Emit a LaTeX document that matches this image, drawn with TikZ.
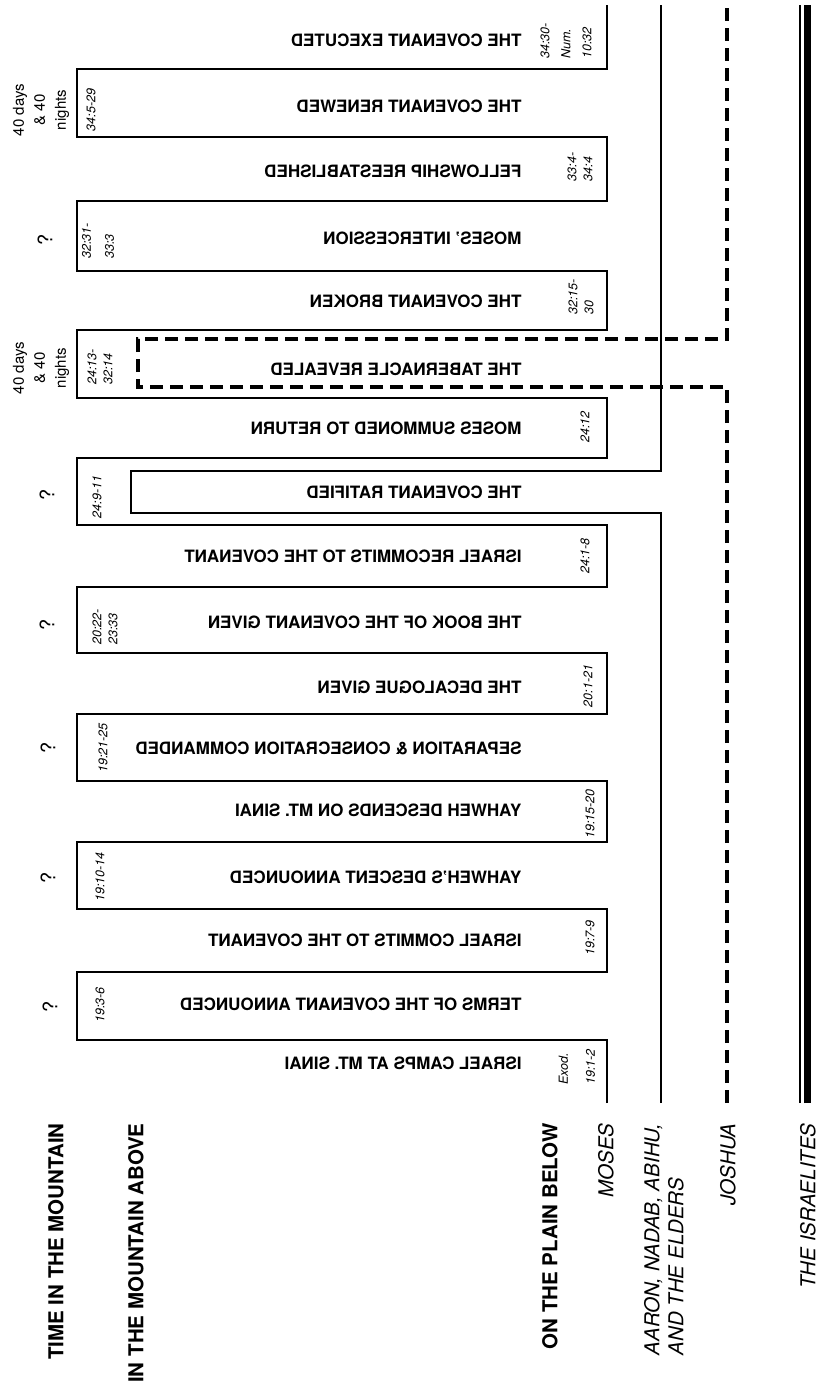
\documentclass[tikz,border=0pt]{standalone}
\usepackage{fontspec}
\setmainfont{TeX Gyre Heros}
\usepackage{graphicx}
\newcommand{\mirr}[1]{\reflectbox{#1}}
\tikzset{
  evt/.style={anchor=east, inner sep=0pt, font=\bfseries\fontsize{8.5}{10}\selectfont},
  hdr/.style={rotate=90, anchor=east, inner sep=0pt, font=\bfseries\fontsize{10.25}{12}\selectfont},
  who/.style={rotate=90, anchor=east, inner sep=0pt, align=left, font=\itshape\fontsize{10.25}{12}\selectfont},
  refl/.style={rotate=90, inner sep=0pt, align=left, font=\itshape\fontsize{6.25}{8}\selectfont},
  tim/.style={rotate=90, inner sep=0pt, align=center, font=\fontsize{7.5}{10.5}\selectfont},
  qmark/.style={rotate=90, inner sep=0pt, font=\fontsize{10}{12}\selectfont},
  mosesline/.style={line width=1.3pt, line join=miter},
  aaronline/.style={line width=0.65pt},
  joshualine/.style={line width=2pt, dash pattern=on 6.5pt off 3.5pt},
  israelthin/.style={line width=0.7pt},
  israelthick/.style={line width=3.5pt}
}
\begin{document}
\begin{tikzpicture}[x=0.5pt,y=-0.5pt]
\fill[white] (0,0) rectangle (817,1391);
\useasboundingbox (0,0) rectangle (817,1391);

% ---- Moses: serpentine between the mountain (left) and the plain (right)
\coordinate (mS) at (607,1103);
\coordinate (mE) at (607,5);
\draw[mosesline] (mS) -- (607,1040) -- (77,1040) -- (77,972) -- (607,972)
  -- (607,909) -- (77,909) -- (77,842) -- (607,842)
  -- (607,781) -- (77,781) -- (77,714) -- (607,714)
  -- (607,653) -- (77,653) -- (77,587) -- (607,587)
  -- (607,525) -- (77,525) -- (77,458) -- (607,458)
  -- (607,398) -- (77,398) -- (77,330) -- (607,330)
  -- (607,271) -- (77,271) -- (77,201) -- (607,201)
  -- (607,137) -- (77,137) -- (77,69) -- (607,69) -- (mE);

% ---- Aaron, Nadab, Abihu and the elders
\coordinate (aS) at (661,1103);
\coordinate (aE) at (661,5);
\draw[aaronline] (aS) -- (661,513) -- (131,513) -- (131,471) -- (661,471) -- (aE);

% ---- Joshua
\coordinate (jS) at (727,1103);
\coordinate (jE) at (727,5);
\draw[joshualine] (jS) -- (727,387) -- (138,387) -- (138,339) -- (727,339) -- (jE);

% ---- The Israelites
\coordinate (iS1) at (800,1103);
\coordinate (iE1) at (800,5);
\coordinate (iS2) at (807,1103);
\coordinate (iE2) at (807,5);
\draw[israelthin] (iS1) -- (iE1);
\draw[israelthick] (iS2) -- (iE2);

% ---- events (mirrored text)
\node[evt] (ev1)  at (522,40)   {\mirr{THE COVENANT EXECUTED}};
\node[evt] (ev2)  at (522,106)  {\mirr{THE COVENANT RENEWED}};
\node[evt] (ev3)  at (522,171)  {\mirr{FELLOWSHIP REESTABLISHED}};
\node[evt] (ev4)  at (522,238)  {\mirr{MOSES' INTERCESSION}};
\node[evt] (ev5)  at (522,301)  {\mirr{THE COVENANT BROKEN}};
\node[evt] (ev6)  at (522,369)  {\mirr{THE TABERNACLE REVEALED}};
\node[evt] (ev7)  at (522,428)  {\mirr{MOSES SUMMONED TO RETURN}};
\node[evt] (ev8)  at (522,492)  {\mirr{THE COVENANT RATIFIED}};
\node[evt] (ev9)  at (522,556)  {\mirr{ISRAEL RECOMMITS TO THE COVENANT}};
\node[evt] (ev10) at (522,622)  {\mirr{THE BOOK OF THE COVENANT GIVEN}};
\node[evt] (ev11) at (522,687)  {\mirr{THE DECALOGUE GIVEN}};
\node[evt] (ev12) at (522,748)  {\mirr{SEPARATION \& CONSECRATION COMMANDED}};
\node[evt] (ev13) at (522,810)  {\mirr{YAHWEH DESCENDS ON MT. SINAI}};
\node[evt] (ev14) at (522,877)  {\mirr{YAHWEH'S DESCENT ANNOUNCED}};
\node[evt] (ev15) at (522,940)  {\mirr{ISRAEL COMMITS TO THE COVENANT}};
\node[evt] (ev16) at (522,1004) {\mirr{TERMS OF THE COVENANT ANNOUNCED}};
\node[evt] (ev17) at (522,1063) {\mirr{ISRAEL CAMPS AT MT. SINAI}};

% ---- scripture references
\node[refl] (r1)  at (566,41)   {34:30-\\[2.5pt]Num.\\[2.5pt]10:32};
\node[refl] (r2)  at (91,110)   {34:5-29};
\node[refl] (r3)  at (580,167)  {33:4-\\34:4};
\node[refl] (r4)  at (98,241)   {32:31-\\[3.5pt]33:3};
\node[refl] (r5)  at (581,297)  {32:15-\\30};
\node[refl] (r6)  at (100,367)  {24:13-\\32:14};
\node[refl] (r7)  at (585,427)  {24:12};
\node[refl] (r8)  at (97,497)   {24:9-11};
\node[refl] (r9)  at (585,556)  {24:1-8};
\node[refl] (r10) at (105,627)  {20:22-\\23:33};
\node[refl] (r11) at (588,686)  {20:1-21};
\node[refl] (r12) at (103,748)  {19:21-25};
\node[refl] (r13) at (590,814)  {19:15-20};
\node[refl] (r14) at (100,877)  {19:10-14};
\node[refl] (r15) at (590,938)  {19:7-9};
\node[refl] (r16) at (100,1005) {19:3-6};
\node[refl] (r17) at (577,1067) {Exod.\\[5.5pt]19:1-2};

% ---- time in the mountain
\node[tim]   (t1) at (41,110)  {40 days\\\& 40\\nights};
\node[qmark] (t2) at (45,240)  {?};
\node[tim]   (t3) at (41,368)  {40 days\\\& 40\\nights};
\node[qmark] (t4) at (47,495)  {?};
\node[qmark] (t5) at (47,625)  {?};
\node[qmark] (t6) at (48,748)  {?};
\node[qmark] (t7) at (48,878)  {?};
\node[qmark] (t8) at (50,1007) {?};

% ---- row headings
\node[hdr] (h1) at (56,1123)  {TIME IN THE MOUNTAIN};
\node[hdr] (h2) at (136,1123) {IN THE MOUNTAIN ABOVE};
\node[hdr] (h3) at (550,1123) {ON THE PLAIN BELOW};
\node[who] (w1) at (606,1123) {MOSES};
\node[who] (w2) at (664,1123) {AARON, NADAB, ABIHU,\\AND THE ELDERS};
\node[who] (w3) at (728,1123) {JOSHUA};
\node[who] (w4) at (808,1123) {THE ISRAELITES};
\end{tikzpicture}
\end{document}
